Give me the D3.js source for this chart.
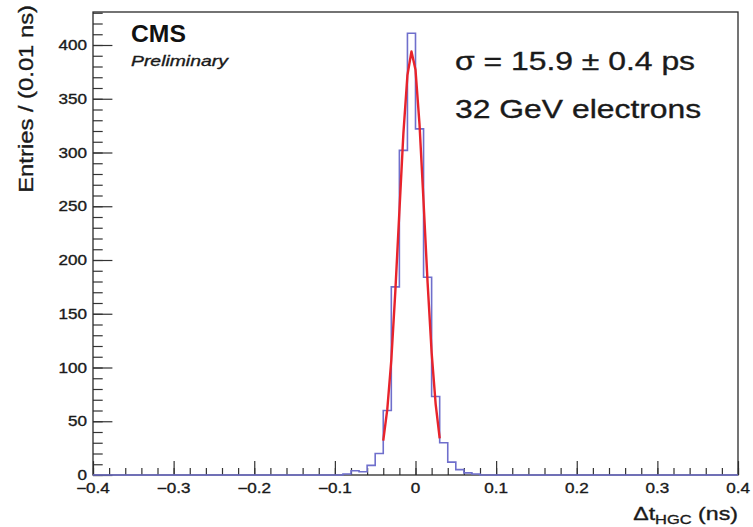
<!DOCTYPE html>
<html>
<head>
<meta charset="utf-8">
<script src="https://cdn.jsdelivr.net/npm/d3@7"></script>
<style>
  body { margin: 0; background: #fff; }
  svg { display: block; }
</style>
</head>
<body>
<svg width="753" height="527"></svg>
<script>
// histogram bins (low edge, ns) and entries per 0.01 ns
const binLow = [-0.10, -0.09, -0.08, -0.07, -0.06, -0.05, -0.04, -0.03, -0.02, -0.01,
                0.00, 0.01, 0.02, 0.03, 0.04, 0.05, 0.06, 0.07, 0.08];
const entries = [0, 1, 4, 3, 9, 20, 60, 175, 302, 411,
                 322, 184, 73, 30, 12, 5, 2, 1, 0];
const binWidth = 0.01;

// gaussian fit curve
const fitX = [-0.040, -0.035, -0.030, -0.025, -0.020, -0.015, -0.010, -0.005,
              0.000, 0.005, 0.010, 0.015, 0.020, 0.025, 0.030];
const fitY = [32, 61, 107, 171, 245, 318, 372, 394, 377, 326, 254, 179, 114, 66, 34];

const xTicks = [-0.4, -0.3, -0.2, -0.1, 0, 0.1, 0.2, 0.3, 0.4];
const yTicks = [0, 50, 100, 150, 200, 250, 300, 350, 400];

const xDomain = [-0.4, 0.4];
const yDomain = [0, 430.7];

const svg = d3.select('svg');
const width = 753, height = 527;
const frame = { left: 93, right: 738, top: 12, bottom: 475 };

const font = '"Liberation Sans", Arial, Helvetica, sans-serif';
const stretch = 1.22;

const x = d3.scaleLinear().domain(xDomain).range([frame.left, frame.right]);
const y = d3.scaleLinear().domain(yDomain).range([frame.bottom, frame.top]);

svg.append("rect")
    .attr("width", width).attr("height", height).attr("fill", "#fff");

// minor + major ticks, ROOT style (inside the frame)
const xMinor = d3.range(-0.4, 0.4001, 0.02);
const yMinor = d3.range(0, 431, 10);

function tickAxis(axis) {
    return g => {
        g.call(axis);
        g.select(".domain").remove();
        g.selectAll("text").remove();
        g.selectAll("line").attr("stroke", "#333").attr("stroke-width", 1.2);
    };
}

svg.append("g")
    .attr("transform", `translate(0,${frame.bottom})`)
    .call(tickAxis(d3.axisBottom(x).tickValues(xMinor).tickSize(-7)));
svg.append("g")
    .attr("transform", `translate(0,${frame.bottom})`)
    .call(tickAxis(d3.axisBottom(x).tickValues(xTicks).tickSize(-13.9)));
svg.append("g")
    .attr("transform", `translate(${frame.left},0)`)
    .call(tickAxis(d3.axisLeft(y).tickValues(yMinor).tickSize(-9.7)));
svg.append("g")
    .attr("transform", `translate(${frame.left},0)`)
    .call(tickAxis(d3.axisLeft(y).tickValues(yTicks).tickSize(-19.4)));

// frame
svg.append("rect")
    .attr("x", frame.left)
    .attr("y", frame.top)
    .attr("width", frame.right - frame.left)
    .attr("height", frame.bottom - frame.top)
    .attr("fill", "none")
    .attr("stroke", "#2a2a2a")
    .attr("stroke-width", 1.3);

// text helper: horizontally widened glyphs like the reference
function label(g, px, py, str, opts = {}) {
    const t = g.append("text")
        .attr("transform", `translate(${px},${py})${opts.rotate ? ` rotate(${opts.rotate})` : ""} scale(${opts.sx || stretch},1)`)
        .attr("text-anchor", opts.anchor || "start")
        .style("font-family", font)
        .style("font-size", (opts.size || 14) + "px")
        .style("font-weight", opts.weight || "normal")
        .style("font-style", opts.style || "normal")
        .style("fill", opts.fill || "#1a1a1a")
        .style("stroke", opts.fill || "#1a1a1a")
        .style("stroke-width", opts.weight === "bold" ? 0 : 0.35);
    if (str !== null) t.text(str);
    return t;
}

const fmt = d3.format("");
const labels = svg.append("g");
xTicks.forEach(v => label(labels, x(v), 493, fmt(v), { anchor: "middle", size: 14 }));
yTicks.forEach(v => label(labels, 87, y(v) + 5, fmt(v), { anchor: "end", size: 14 }));

// histogram outline (step)
const histPts = [[xDomain[0], 0]];
binLow.forEach((lo, i) => histPts.push([lo, entries[i]]));
histPts.push([binLow[binLow.length - 1] + binWidth, 0]);
histPts.push([xDomain[1], 0]);

const step = d3.line()
    .x(d => x(d[0]))
    .y(d => y(d[1]))
    .curve(d3.curveStepAfter);

svg.append("path")
    .datum(histPts)
    .attr("d", step)
    .attr("fill", "none")
    .attr("stroke", "#6f6fcc")
    .attr("stroke-width", 1.6);

// fit
const fitLine = d3.line()
    .x((d, i) => x(fitX[i]))
    .y(d => y(d));

svg.append("path")
    .datum(fitY)
    .attr("d", fitLine)
    .attr("fill", "none")
    .attr("stroke", "#e8232b")
    .attr("stroke-width", 2.4)
    .attr("stroke-linejoin", "round");

// annotations
label(svg, 131, 42, "CMS", { size: 24, weight: "bold", sx: 1.03, fill: "#111" });
label(svg, 131, 66, "Preliminary", { size: 15.5, style: "italic", sx: 1.25 });
label(svg, 455, 70, "σ = 15.9 ± 0.4 ps", { size: 25.5, sx: 1.25 });
label(svg, 455, 118, "32 GeV electrons", { size: 25.5, sx: 1.25 });

// axis titles
label(svg, 33, 5, "Entries / (0.01 ns)", { size: 19.5, anchor: "end", rotate: -90, sx: 1.22 });

const xt = label(svg, 738, 520, null, { size: 19, anchor: "end", sx: 1.22 });
xt.append("tspan").text("Δt");
xt.append("tspan").attr("dy", 4).style("font-size", "13.5px").text("HGC");
xt.append("tspan").attr("dy", -4).text(" (ns)");
</script>
</body>
</html>
